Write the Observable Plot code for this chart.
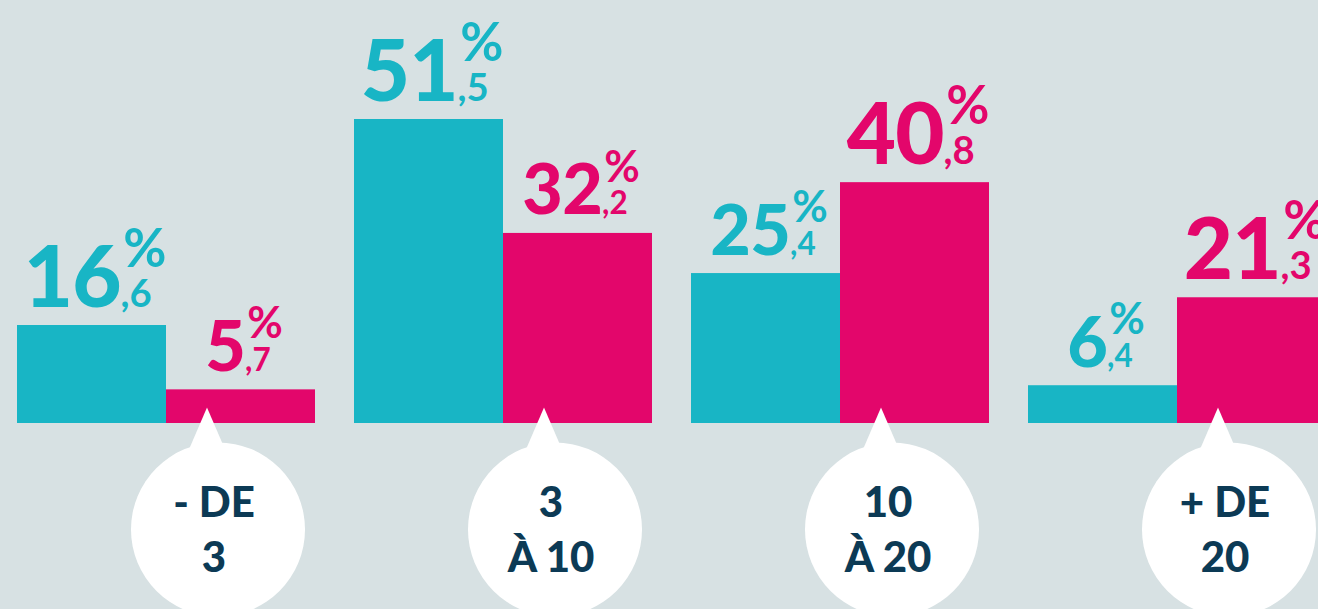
<!DOCTYPE html>
<html><head><meta charset="utf-8">
<script src="https://cdn.jsdelivr.net/npm/d3@7"></script>
<script src="https://cdn.jsdelivr.net/npm/@observablehq/plot@0.6"></script>
<style>
html,body{margin:0;padding:0;background:#d7e1e3;overflow:hidden;}
#chart{width:1318px;height:609px;overflow:hidden;}
#chart svg{max-width:none !important;}
</style></head><body><div id="chart"></div>
<script>
const groups = ["- DE\n3", "3\nÀ 10", "10\nÀ 20", "+ DE\n20"];
const series = ["A", "B"];
const valuesA = [16.6, 51.5, 25.4, 6.4];
const valuesB = [5.7, 32.2, 40.8, 21.3];
const colors = ["#18b5c5", "#e3066b"];

const data = groups.flatMap((g, i) => [
  {group: g, series: series[0], value: valuesA[i]},
  {group: g, series: series[1], value: valuesB[i]}
]);
data.forEach(d => {
  const other = data.find(e => e.group === d.group && e !== d);
  d.big = d.value >= other.value;
});
const labelText = d => { const [ip, dp] = d.value.toFixed(1).split("."); return `${ip}|,${dp}`; };

const pointer = {draw(ctx, size) {
  const r = Math.sqrt(size / Math.PI);
  ctx.moveTo(0, -r); ctx.lineTo(0.86 * r, r); ctx.lineTo(-0.86 * r, r); ctx.closePath();
}};

const chart = Plot.plot({
  width: 1326, height: 609,
  marginLeft: 16, marginRight: 0, marginTop: 0, marginBottom: 186,
  style: {background: "#d7e1e3", fontFamily: "Lato", maxWidth: "none"},
  fx: {domain: groups, paddingInner: 38 / 337, paddingOuter: 0, axis: null, label: null},
  x: {domain: series, padding: 0, axis: null},
  y: {domain: [0, 71.66], axis: null},
  color: {domain: series, range: colors},
  marks: [
    Plot.barY(data, {fx: "group", x: "series", y: "value", fill: "series"}),
    Plot.dot(groups, {fx: d => d, x: null, y: null, frameAnchor: "bottom", dx: 52, dy: 106, r: 87, fill: "white"}),
    Plot.dot(groups, {fx: d => d, x: null, y: null, frameAnchor: "bottom", dx: 41, dy: 9, r: 25, symbol: pointer, fill: "white"}),
    Plot.text(groups, {fx: d => d, x: null, y: null, text: d => d, frameAnchor: "bottom", dx: 48, dy: 103,
      lineAnchor: "middle", lineHeight: 1.31, fontSize: 42, fontWeight: 900, fill: "#0c3a55", letterSpacing: "2px"}),
    Plot.text(data, {fx: "group", x: "series", y: "value", text: labelText,
      textAnchor: "middle", lineAnchor: "bottom", dy: -19, dx: 3, fill: "series",
      fontSize: d => d.big ? 85 : 70, fontWeight: 900})
  ]
});
chart.style.maxWidth = "none";
document.getElementById("chart").append(chart);

const NS = "http://www.w3.org/2000/svg";
chart.querySelectorAll("text").forEach(t => {
  if (!t.textContent.includes("|")) return;
  const [ip, dp] = t.textContent.split("|");
  const fs = parseFloat(t.getAttribute("font-size")) || 85;
  t.textContent = "";
  const a = document.createElementNS(NS, "tspan"); a.textContent = ip;
  a.setAttribute("letter-spacing", `${-fs * 0.01}px`);
  const b = document.createElementNS(NS, "tspan"); b.textContent = dp;
  b.setAttribute("font-size", fs * 0.45); b.setAttribute("font-weight", 700);
  const c = document.createElementNS(NS, "tspan"); c.textContent = "%";
  c.setAttribute("font-size", fs * 0.62); c.setAttribute("font-weight", 700);
  t.append(a, b, c);
  const w = b.getComputedTextLength();
  c.setAttribute("dx", -w + fs * 0.03);
  c.setAttribute("dy", -fs * 0.47);
});
</script></body></html>
